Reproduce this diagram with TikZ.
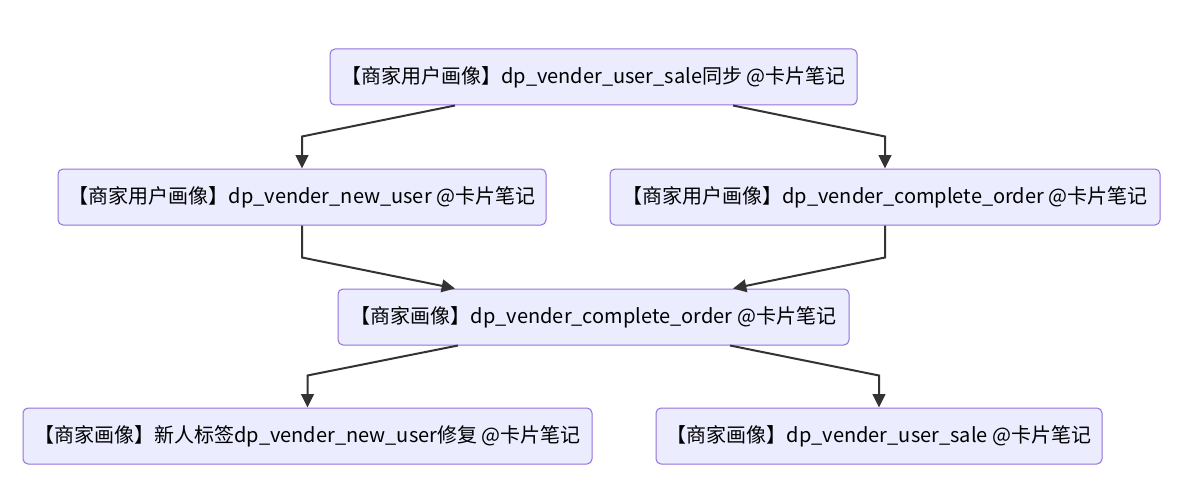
\documentclass[tikz,border=0pt]{standalone}
\usepackage{fontspec}
\setmainfont{Noto Sans CJK SC}
\usepackage{tikz}
\usetikzlibrary{arrows.meta,calc}
\definecolor{cardfill}{HTML}{ECECFF}
\definecolor{cardline}{HTML}{9370DB}
\definecolor{flowline}{HTML}{333333}

\begin{document}
\begin{tikzpicture}[x=0.75pt, y=-0.75pt,
    every node/.style={rectangle, draw=cardline, fill=cardfill, line width=0.75pt, rounded corners=3.75pt, align=center, minimum height=42pt, inner sep=0pt, font=\fontsize{15pt}{18pt}\selectfont},
    flow/.style={draw=flowline, line width=1.5pt, -{Triangle[length=10pt, width=9.5pt]}}]
        \useasboundingbox (0,0) rectangle (1186,492);
        \node (sync) [minimum width=395.25pt] at (593.5,77) {【商家用户画像】dp\_vender\_user\_sale同步 @卡片笔记};
        \node (newuser) [minimum width=366pt] at (302,197) {【商家用户画像】dp\_vender\_new\_user @卡片笔记};
        \node (userorder) [minimum width=412.5pt] at (885,197) {【商家用户画像】dp\_vender\_complete\_order @卡片笔记};
        \node (order) [minimum width=383.25pt] at (593.5,317) {【商家画像】dp\_vender\_complete\_order @卡片笔记};
        \node (fix) [minimum width=426.75pt] at (307.5,436) {【商家画像】新人标签dp\_vender\_new\_user修复 @卡片笔记};
        \node (sale) [minimum width=334.5pt] at (879,436) {【商家画像】dp\_vender\_user\_sale @卡片笔记};

        \draw[flow] ($(sync.south)+(-138.5,0)$) -- ($(newuser.north)+(0,-32)$) -- (newuser.north);
        \draw[flow] ($(sync.south)+(139.5,0)$) -- ($(userorder.north)+(0,-32)$) -- (userorder.north);
        \draw[flow] (newuser.south) -- ++(0,32) -- ($(order.north)+(-138.5,0)$);
        \draw[flow] (userorder.south) -- ++(0,32) -- ($(order.north)+(139.5,0)$);
        \draw[flow] ($(order.south)+(-135.5,0)$) -- ($(fix.north)+(0,-32)$) -- (fix.north);
        \draw[flow] ($(order.south)+(136.5,0)$) -- ($(sale.north)+(0,-32)$) -- (sale.north);
    \end{tikzpicture}
\end{document}
